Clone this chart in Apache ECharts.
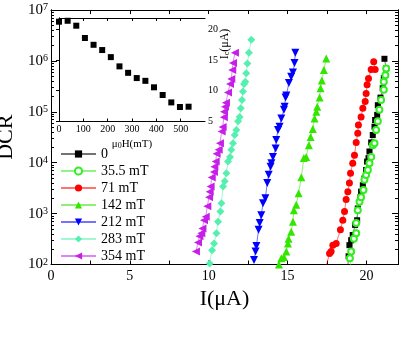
<!DOCTYPE html>
<html>
<head>
<meta charset="utf-8">
<script src="https://cdn.jsdelivr.net/npm/echarts@6/dist/echarts.min.js"></script>
<style>
  html, body { margin: 0; padding: 0; background: #fff; }
  #chart { width: 399px; height: 341px; }
</style>
</head>
<body>
<div id="chart"></div>
<script>
// current I (uA), DCR, bottom to top
const s0 = [[18.82,95],[18.87,145],[18.92,240],[19.03,300],[19.13,380],[19.28,600],[19.41,740],[19.45,1260],[19.62,2100],[19.66,2700],[19.77,3600],[19.87,4900],[19.98,7200],[20.04,10500],[20.13,12300],[20.19,16600],[20.30,25000],[20.40,35000],[20.51,51000],[20.55,69000],[20.68,87000],[20.72,135000],[20.89,190000],[21.03,290000],[21.10,460000],[21.25,710000],[21.14,1100000]]
const s35 = [[19.0,96],[18.95,132],[19.03,180],[19.20,320],[19.35,410],[19.35,650],[19.45,1170],[19.56,1700],[19.66,2100],[19.81,2900],[19.87,4600],[19.98,5750],[20.09,7200],[20.19,9800],[20.30,13000],[20.40,22000],[20.51,24000],[20.61,44000],[20.72,65000],[20.82,110000],[20.93,170000],[21.10,270000],[21.10,390000],[21.20,520000],[21.25,710000]]
const s71 = [[17.45,93],[17.66,165],[17.76,180],[17.87,240],[18.08,260],[18.35,480],[18.50,740],[18.61,1100],[18.71,1900],[18.82,2700],[18.92,4000],[18.99,6200],[19.13,9800],[19.24,14000],[19.35,25000],[19.45,38000],[19.49,55000],[19.66,79000],[19.77,117000],[19.92,160000],[19.98,230000],[20.04,340000],[20.13,450000],[20.30,680000],[20.55,680000],[20.46,960000]]
const s142 = [[14.45,100],[14.60,132],[14.77,140],[14.92,180],[15.02,260],[15.06,320],[15.23,440],[15.34,690],[15.40,1170],[15.55,1500],[15.70,2500],[15.87,5200],[16.03,12300],[16.18,13000],[16.35,22000],[16.46,32000],[16.60,46000],[16.71,74000],[16.82,100000],[16.88,126000],[17.03,190000],[17.09,290000],[17.17,410000],[17.30,660000],[17.45,1120000]]
const s212 = [[12.87,123],[12.97,180],[13.02,230],[13.16,480],[13.23,650],[13.33,930],[13.44,1600],[13.59,2000],[13.71,4000],[13.80,5800],[13.92,8300],[13.97,9800],[14.07,13000],[14.24,19000],[14.28,28000],[14.39,44000],[14.49,51000],[14.60,74000],[14.77,110000],[14.81,126000],[14.87,190000],[14.92,210000],[15.08,370000],[15.23,490000],[15.34,590000],[15.44,910000],[15.49,1450000]]
const s283 = [[10.06,105],[10.21,190],[10.34,260],[10.49,410],[10.59,690],[10.74,1100],[10.80,1600],[10.91,3400],[11.01,4300],[11.12,6200],[11.22,10500],[11.35,13000],[11.43,18000],[11.54,24000],[11.65,35000],[11.75,44000],[11.86,65000],[11.96,79000],[12.03,117000],[12.11,170000],[12.17,250000],[12.24,350000],[12.32,390000],[12.38,575000],[12.45,890000],[12.55,1450000],[12.70,2600000]]
const s354 = [[9.19,180],[9.32,270],[9.41,360],[9.53,410],[9.60,510],[9.70,740],[9.81,870],[9.91,1400],[10.02,2100],[10.06,2700],[10.12,3400],[10.19,5100],[10.33,6600],[10.36,8300],[10.44,10500],[10.50,15000],[10.63,18000],[10.71,24000],[10.82,41000],[10.88,50000],[10.96,78000],[10.97,100000],[11.03,126000],[11.09,150000],[11.22,240000],[11.35,350000],[11.43,440000],[11.49,660000],[11.54,910000],[11.66,1450000]]

const seriesNames = ['0', '35.5 mT', '71 mT', '142 mT', '212 mT', '283 mT', '354 mT']

// inset: critical current vs field
const insetField = [0, 35.5, 71, 106.5, 142, 177.5, 213, 248.5, 284, 319.5, 355, 390.5, 426, 461.5, 497, 532.5]
const insetIc = [21.2, 21.35, 20.55, 18.55, 17.45, 16.6, 15.45, 13.95, 12.9, 12.05, 11.6, 10.55, 9.3, 8.1, 7.35, 7.4]

// ticks
const xLabels = [0, 5, 10, 15, 20]
const xTicks = [0, 2.5, 5, 7.5, 10, 12.5, 15, 17.5, 20]
const yDecades = [1e2, 1e3, 1e4, 1e5, 1e6, 1e7]
const insetXLabels = [0, 100, 200, 300, 400, 500]
const insetYLabels = [5, 10, 15, 20]

const yMinor = []
for (let d = 100; d < 1e7; d *= 10) {
  for (let k = 2; k <= 9; k++) yMinor.push(d * k)
}

const serif = 'Liberation Serif'
const chart = echarts.init(document.getElementById('chart'))

const mkLine = (name, data, color, symbol, size, extra) => Object.assign({
  name: name,
  type: 'line',
  xAxisIndex: 0,
  yAxisIndex: 0,
  data: data,
  symbol: symbol,
  symbolSize: size,
  showAllSymbol: true,
  clip: true,
  itemStyle: { color: color },
  lineStyle: { color: color, width: 1, opacity: 0.55 }
}, extra || {})

const logAxis = (pos, len, ticks, labels) => ({
  type: 'log',
  logBase: 10,
  gridIndex: 0,
  position: pos,
  min: 100,
  max: 1e7,
  axisLine: { show: true, lineStyle: { color: '#000', width: 1 } },
  axisTick: { show: true, inside: true, length: len, customValues: ticks, lineStyle: { color: '#000' } },
  axisLabel: labels ? {
    show: true,
    customValues: yDecades,
    margin: 3,
    formatter: v => '{b|10}{s|' + Math.round(Math.log10(v)) + '}',
    rich: {
      b: { fontFamily: serif, fontSize: 15, color: '#000' },
      s: { fontFamily: serif, fontSize: 10, color: '#000', verticalAlign: 'top' }
    }
  } : { show: false },
  splitLine: { show: false }
})

const option = {
  animation: false,
  backgroundColor: '#fff',
  grid: [
    { left: 51, right: 1, top: 10, bottom: 76.5, outerBoundsMode: 'none' },
    { left: 59, right: 194, top: 18, bottom: 219.5, outerBoundsMode: 'none', show: true, backgroundColor: '#fff', borderWidth: 0 }
  ],
  legend: {
    data: seriesNames,
    orient: 'vertical',
    left: 55,
    top: 142,
    itemWidth: 35,
    itemHeight: 9,
    itemGap: 3,
    textStyle: { fontFamily: serif, fontSize: 14, color: '#000', lineHeight: 14 }
  },
  xAxis: [
    {
      type: 'value', gridIndex: 0, position: 'bottom', min: 0, max: 22,
      name: 'I(μA)', nameLocation: 'middle', nameGap: 22,
      nameTextStyle: { fontFamily: serif, fontSize: 22, color: '#000' },
      axisLine: { lineStyle: { color: '#000' } },
      axisTick: { inside: true, length: 4, customValues: xTicks, lineStyle: { color: '#000' } },
      axisLabel: { customValues: xLabels, margin: 5, fontFamily: serif, fontSize: 14, color: '#000' },
      splitLine: { show: false }
    },
    {
      type: 'value', gridIndex: 0, position: 'top', min: 0, max: 22,
      axisLine: { lineStyle: { color: '#000' } },
      axisTick: { inside: true, length: 4, customValues: xTicks, lineStyle: { color: '#000' } },
      axisLabel: { show: false },
      splitLine: { show: false }
    },
    {
      type: 'value', gridIndex: 1, position: 'bottom', min: 0, max: 600,
      name: '{a|μ}{s|0}{a|H(mT)}', nameLocation: 'middle', nameGap: 17,
      nameTextStyle: {
        rich: {
          a: { fontFamily: serif, fontSize: 11, color: '#000' },
          s: { fontFamily: serif, fontSize: 8, color: '#000', verticalAlign: 'bottom' }
        }
      },
      axisLine: { lineStyle: { color: '#000' } },
      axisTick: { inside: true, length: 3, customValues: insetXLabels, lineStyle: { color: '#000' } },
      axisLabel: { customValues: insetXLabels, margin: 3, fontFamily: serif, fontSize: 10, color: '#000' },
      splitLine: { show: false }
    },
    {
      type: 'value', gridIndex: 1, position: 'top', min: 0, max: 600,
      axisLine: { lineStyle: { color: '#000' } },
      axisTick: { inside: true, length: 3, customValues: insetXLabels, lineStyle: { color: '#000' } },
      axisLabel: { show: false },
      splitLine: { show: false }
    }
  ],
  yAxis: [
    Object.assign(logAxis('left', 6, yDecades, true), {
      name: 'DCR', nameLocation: 'middle', nameGap: 31,
      nameTextStyle: { fontFamily: serif, fontSize: 22, color: '#000' }
    }),
    logAxis('left', 3, yMinor, false),
    logAxis('right', 6, yDecades, false),
    logAxis('right', 3, yMinor, false),
    {
      type: 'value', gridIndex: 1, position: 'right', min: 5, max: 21.8,
      axisLine: { show: true, lineStyle: { color: '#000' } },
      axisTick: { show: true, inside: true, length: 3, customValues: insetYLabels, lineStyle: { color: '#000' } },
      axisLabel: { customValues: insetYLabels, margin: 3, fontFamily: serif, fontSize: 10, color: '#000' },
      splitLine: { show: false }
    },
    {
      type: 'value', gridIndex: 1, position: 'left', min: 5, max: 21.8,
      axisLine: { show: true, lineStyle: { color: '#000' } },
      axisTick: { show: false },
      axisLabel: { show: false },
      splitLine: { show: false }
    }
  ],
  graphic: [
    {
      type: 'text', x: 225, y: 44, rotation: Math.PI / 2,
      style: {
        text: '{a|I}{s|c}{a|(μA)}',
        align: 'center', verticalAlign: 'middle',
        rich: {
          a: { fontFamily: serif, fontSize: 12, fill: '#000' },
          s: { fontFamily: serif, fontSize: 8, fill: '#000', verticalAlign: 'bottom' }
        }
      }
    }
  ],
  series: [
    mkLine('0', s0, '#000000', 'rect', 6),
    mkLine('35.5 mT', s35, '#33ee22', 'emptyCircle', 6, { itemStyle: { color: '#33ee22', borderWidth: 1 } }),
    mkLine('71 mT', s71, '#ff0000', 'circle', 7),
    mkLine('142 mT', s142, '#33e600', 'triangle', 8),
    mkLine('212 mT', s212, '#0000ff', 'triangle', 8, { symbolRotate: 180 }),
    mkLine('283 mT', s283, '#55f0b0', 'diamond', 8),
    mkLine('354 mT', s354, '#c61fe8', 'triangle', 8, { symbolRotate: 90 }),
    {
      name: 'inset',
      type: 'scatter',
      xAxisIndex: 2,
      yAxisIndex: 4,
      symbol: 'rect',
      symbolSize: 6,
      itemStyle: { color: '#000', opacity: 1 },
      data: insetField.map((h, i) => [h, insetIc[i]])
    }
  ]
}

chart.setOption(option)
</script>
</body>
</html>
